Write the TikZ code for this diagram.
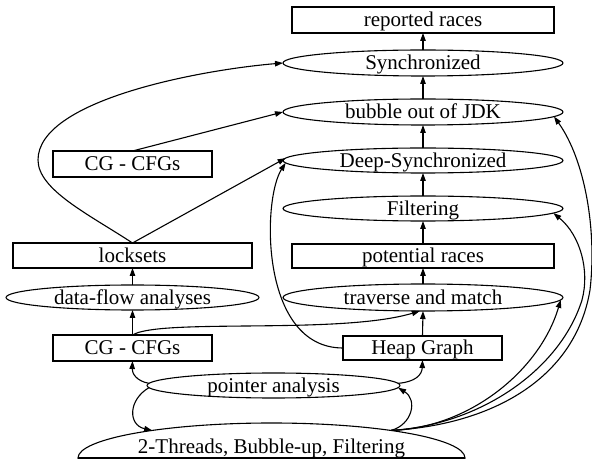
\documentclass[tikz,border=0pt]{standalone}
\usepackage{fontspec}
\setmainfont{Liberation Serif}
\usetikzlibrary{shapes.geometric,arrows.meta}
\begin{document}
\begin{tikzpicture}[x=1pt,y=-1pt,
  base/.style={draw, line width=1.1pt, inner sep=0pt, outer sep=0pt,
    font=\fontsize{21}{25}\selectfont, text height=14pt, text depth=0pt},
  box/.style={base, rectangle},
  oval/.style={base, ellipse},
  edge/.style={line width=1.1pt, -{Triangle[length=8pt,width=5.5pt]}}]
\useasboundingbox (0,0) rectangle (592,462);
% right column
\node[box, minimum width=262, minimum height=26] (rep) at (423,20) {reported races};
\node[oval, minimum width=280, minimum height=26] (sync) at (423,63) {Synchronized};
\node[oval, minimum width=280, minimum height=26] (bub) at (423,112) {bubble out of JDK};
\node[oval, minimum width=280, minimum height=25] (deep) at (423,160.5) {Deep-Synchronized};
\node[oval, minimum width=280, minimum height=25] (filt) at (423,208.5) {Filtering};
\node[box, minimum width=262, minimum height=24] (pot) at (423,256) {potential races};
\node[oval, minimum width=280, minimum height=27] (trav) at (423,297.5) {traverse and match};
\node[box, minimum width=159, minimum height=24] (heap) at (422.5,348) {Heap Graph};
% left column
\node[box, minimum width=159, minimum height=26] (cgu) at (132.5,164) {CG - CFGs};
\node[box, minimum width=239, minimum height=25] (lock) at (132.5,255.5) {locksets};
\node[oval, minimum width=253, minimum height=25] (dfa) at (132.5,297.5) {data-flow analyses};
\node[box, minimum width=159, minimum height=26] (cgl) at (132.5,348) {CG - CFGs};
% bottom
\node[oval, minimum width=253, minimum height=25] (ptr) at (273.5,385.5) {pointer analysis};
\begin{scope}
\clip (0,0) rectangle (592,458);
\node[oval, minimum width=387, minimum height=70] (threads) at (271.5,458) {};
\end{scope}
\draw[line width=1.1pt] (threads.west) -- (threads.east);
\node[font=\fontsize{21}{25}\selectfont, text height=14pt, text depth=0pt, inner sep=0pt] (threadstext) at (271.5,446) {2-Threads, Bubble-up, Filtering};
% vertical edges
\draw[edge] (sync.north) -- (rep.south);
\draw[edge] (bub.north) -- (sync.south);
\draw[edge] (deep.north) -- (bub.south);
\draw[edge] (filt.north) -- (deep.south);
\draw[edge] (pot.north) -- (filt.south);
\draw[edge] (trav.north) -- (pot.south);
\draw[edge] (heap.north) -- (trav.south);
\draw[edge] (dfa.north) -- (lock.south);
\draw[edge] (cgl.north) -- (dfa.south);
% left curves
\draw[edge] (lock.north) .. controls (90,215) and (38,190) .. (38,160) .. controls (38,100) and (200,70) .. (sync.west);
\draw[edge] (lock.north) -- (deep.179);
\draw[edge] (cgu.north) -- (bub.west);
\draw[edge] (heap.west) .. controls (260,348) and (262,200) .. (deep.181);
\draw[edge] (cgl.north) .. controls (160,318) and (340,335) .. (trav.257);
% bottom curves
\draw[edge] (ptr.179) .. controls (136,381) and (132,373) .. (cgl.south);
\draw[edge] (ptr.181) .. controls (128,400) and (128,425) .. (threads.167);
\draw[edge] (ptr.1) .. controls (415,382) and (422,375) .. (heap.south);
\draw[edge] (threads.13) .. controls (412,425) and (418,400) .. (ptr.-1);
% right curves
\draw[edge] (threads.13) .. controls (470,428) and (540,370) .. (trav.-1.5);
\draw[edge] (threads.13) .. controls (480,425) and (560,370) .. (582,300) .. controls (590,270) and (580,235) .. (filt.-2);
\draw[edge] (threads.13) .. controls (490,425) and (575,380) .. (590,290) .. controls (597,230) and (585,160) .. (bub.-2);
\end{tikzpicture}
\end{document}
